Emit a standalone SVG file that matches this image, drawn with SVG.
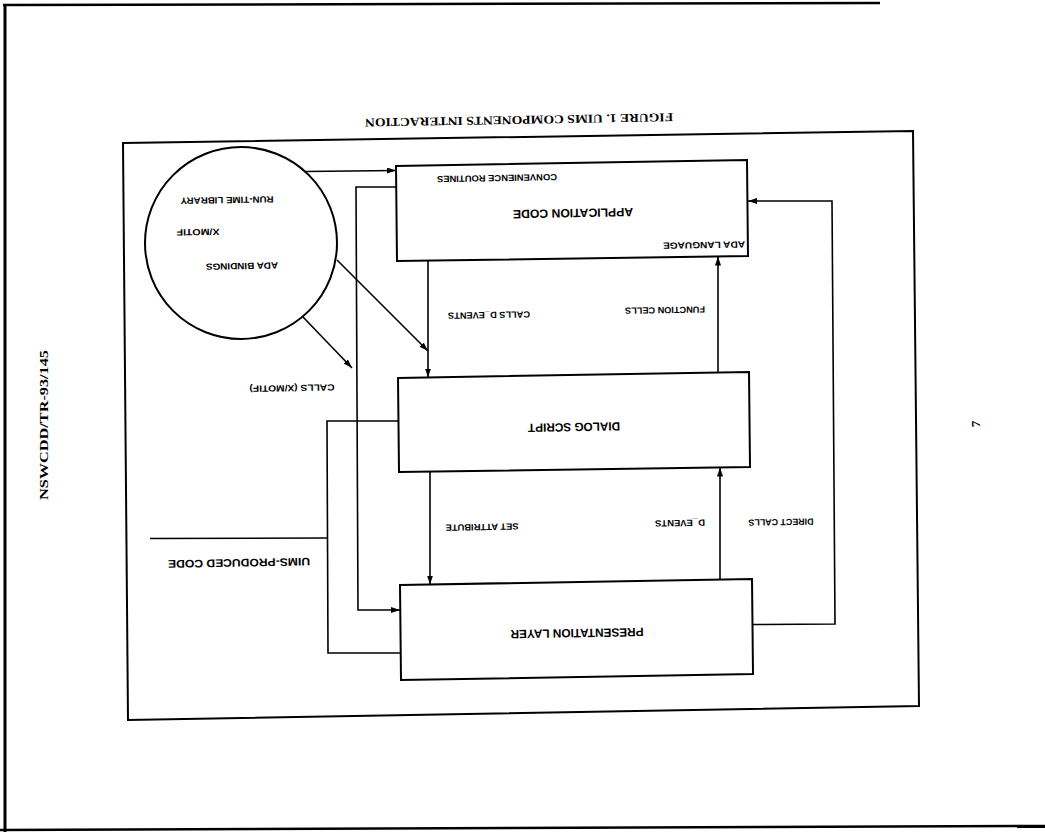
<svg xmlns="http://www.w3.org/2000/svg" width="1045" height="832" viewBox="0 0 1045 832">
<defs>
<marker id="ah" markerUnits="userSpaceOnUse" markerWidth="10" markerHeight="8" refX="9" refY="3" orient="auto">
<path d="M0,0 L9,3 L0,6 z" fill="#000"/>
</marker>
<style>
.bx{fill:#fff;stroke:#000;stroke-width:2}
.ln{fill:none;stroke:#000;stroke-width:1.6}
.ar{fill:none;stroke:#000;stroke-width:1.6;marker-end:url(#ah)}
.lb{font-family:"Liberation Sans",Arial,sans-serif;font-weight:bold;font-size:9px;fill:#000}
.lg{font-family:"Liberation Sans",Arial,sans-serif;font-weight:bold;font-size:12px;fill:#000}
.sf{font-family:"Liberation Serif","Times New Roman",serif;font-weight:bold;fill:#000}
</style>
</defs>
<rect width="1045" height="832" fill="#fff"/>
<g id="page">
<line x1="5" y1="4" x2="5" y2="832" stroke="#000" stroke-width="3"/>
<line x1="3" y1="5" x2="880" y2="3" stroke="#000" stroke-width="2.5"/>
<line x1="0" y1="830" x2="1045" y2="826" stroke="#000" stroke-width="2.5"/>
<text class="sf" font-size="13" transform="translate(48,425) rotate(-90)" text-anchor="middle" textLength="150" lengthAdjust="spacingAndGlyphs">NSWCDD/TR-93/145</text>
<text class="sf" font-size="13" transform="translate(980,424) rotate(-90)" text-anchor="middle">7</text>
</g>
<g id="title">
<text class="sf" font-size="12" transform="translate(519,120) rotate(179)" text-anchor="middle" dominant-baseline="central" textLength="308" lengthAdjust="spacingAndGlyphs">FIGURE 1.  UIMS COMPONENTS INTERACTION</text>
</g>
<g id="frame">
<polygon points="123,143 913,131 919,706 128,720" fill="none" stroke="#000" stroke-width="2"/>
</g>
<g id="connectors">
<polyline class="ar" points="305,171.5 396,170.5"/>
<polyline class="ar" points="396,187 356,187 358,610 400,610"/>
<polyline class="ar" points="337,260 428,351"/>
<polyline class="ar" points="303,317 352,368"/>
<polyline class="ar" points="428,260.6 428,377.5"/>
<polyline class="ar" points="718,372.5 718,256.5"/>
<polyline class="ln" points="398,421 327,421 328,653 400.7,653"/>
<polyline class="ln" points="327,538 150,538.5"/>
<polyline class="ar" points="430,471.5 430,584.5"/>
<polyline class="ar" points="720,579.7 720,467.5"/>
<polyline class="ar" points="752.5,624.5 835,624 832,201 748,201"/>
</g>
<g id="runtime-library">
<circle cx="241" cy="243" r="96" fill="#fff" stroke="#000" stroke-width="2"/>
<text class="lb" transform="translate(227,200) rotate(179)" text-anchor="middle" dominant-baseline="central" textLength="93" lengthAdjust="spacingAndGlyphs">RUN-TIME LIBRARY</text>
<text class="lb" transform="translate(198,232) rotate(179)" text-anchor="middle" dominant-baseline="central" textLength="43" lengthAdjust="spacingAndGlyphs">X/MOTIF</text>
<text class="lb" transform="translate(242,266) rotate(179)" text-anchor="middle" dominant-baseline="central" textLength="72" lengthAdjust="spacingAndGlyphs">ADA BINDINGS</text>
</g>
<g id="application-code">
<polygon class="bx" points="396,166 747,160 748,256 397,261"/>
<text class="lb" transform="translate(497,178) rotate(179)" text-anchor="middle" dominant-baseline="central" textLength="120" lengthAdjust="spacingAndGlyphs">CONVENIENCE ROUTINES</text>
<text class="lg" transform="translate(573,213) rotate(179)" text-anchor="middle" dominant-baseline="central" textLength="120" lengthAdjust="spacingAndGlyphs">APPLICATION CODE</text>
<text class="lb" transform="translate(704,245) rotate(179)" text-anchor="middle" dominant-baseline="central" textLength="82" lengthAdjust="spacingAndGlyphs">ADA LANGUAGE</text>
</g>
<g id="dialog-script">
<polygon class="bx" points="398,378 749,372 750,467 399,472"/>
<text class="lg" transform="translate(574,427) rotate(179)" text-anchor="middle" dominant-baseline="central" textLength="92" lengthAdjust="spacingAndGlyphs">DIALOG SCRIPT</text>
</g>
<g id="presentation-layer">
<polygon class="bx" points="400,585 752,579 753,674 401,680"/>
<text class="lg" transform="translate(577,633) rotate(179)" text-anchor="middle" dominant-baseline="central" textLength="133" lengthAdjust="spacingAndGlyphs">PRESENTATION LAYER</text>
</g>
<g id="labels">
<text class="lb" transform="translate(489,315) rotate(179)" text-anchor="middle" dominant-baseline="central" textLength="82" lengthAdjust="spacingAndGlyphs">CALLS D_EVENTS</text>
<text class="lb" transform="translate(665,310) rotate(179)" text-anchor="middle" dominant-baseline="central" textLength="80" lengthAdjust="spacingAndGlyphs">FUNCTION CELLS</text>
<text class="lb" transform="translate(292,388) rotate(179)" text-anchor="middle" dominant-baseline="central" textLength="85" lengthAdjust="spacingAndGlyphs">CALLS (X/MOTIF)</text>
<text class="lb" transform="translate(239,563) rotate(179)" text-anchor="middle" dominant-baseline="central" textLength="142" lengthAdjust="spacingAndGlyphs" style="font-size:11px">UIMS-PRODUCED CODE</text>
<text class="lb" transform="translate(482,527) rotate(179)" text-anchor="middle" dominant-baseline="central" textLength="73" lengthAdjust="spacingAndGlyphs">SET ATTRIBUTE</text>
<text class="lb" transform="translate(680,523) rotate(179)" text-anchor="middle" dominant-baseline="central" textLength="50" lengthAdjust="spacingAndGlyphs">D_EVENTS</text>
<text class="lb" transform="translate(781,522) rotate(179)" text-anchor="middle" dominant-baseline="central" textLength="65" lengthAdjust="spacingAndGlyphs">DIRECT CALLS</text>
</g>
</svg>
